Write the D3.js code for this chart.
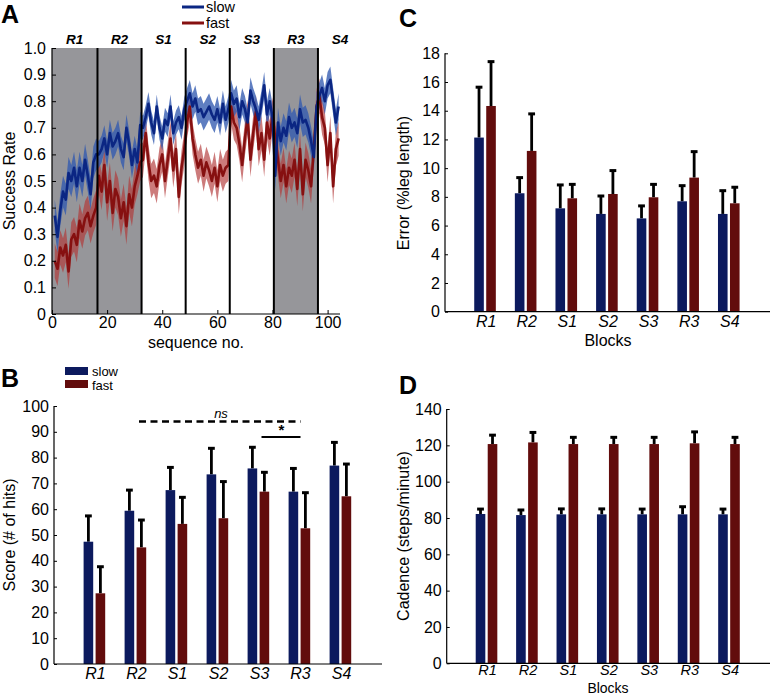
<!DOCTYPE html>
<html><head><meta charset="utf-8">
<script src="https://cdn.jsdelivr.net/npm/d3@7"></script>
<style>
body{margin:0;background:#fff;}
text{font-family:"Liberation Sans",Arial,Helvetica,sans-serif;}
</style></head>
<body><svg id="c" width="771" height="696"></svg>
<script>
// ---------- DATA ----------
const blocks = ["R1","R2","S1","S2","S3","R3","S4"];
const blockBounds = [0.5,16.5,32.5,48.5,64.5,80.5,96.5,104.5];
const shadedBlocks = ["R1","R2","R3"];
const seqTicks = [0,20,40,60,80,100];
const rateTicks = [0,0.1,0.2,0.3,0.4,0.5,0.6,0.7,0.8,0.9,1.0];

const slowRate = [
 0.37,0.29,0.39,0.46,0.43,0.53,0.50,0.55,0.48,0.55,0.50,0.58,0.52,0.45,0.57,0.60,
 0.60,0.62,0.66,0.60,0.68,0.63,0.65,0.68,0.62,0.59,0.70,0.64,0.56,0.62,0.57,0.71,
 0.70,0.74,0.79,0.72,0.68,0.78,0.70,0.66,0.73,0.71,0.78,0.68,0.72,0.74,0.70,0.77,
 0.80,0.83,0.78,0.81,0.76,0.77,0.74,0.76,0.78,0.75,0.73,0.77,0.72,0.79,0.73,0.77,
 0.83,0.79,0.81,0.74,0.80,0.77,0.72,0.84,0.80,0.77,0.73,0.79,0.86,0.75,0.80,0.74,
 0.52,0.72,0.65,0.70,0.67,0.74,0.70,0.72,0.68,0.77,0.72,0.73,0.70,0.65,0.59,0.78,
 0.82,0.85,0.80,0.86,0.88,0.80,0.72,0.78];
const fastRate = [
 0.20,0.17,0.25,0.22,0.26,0.16,0.28,0.30,0.26,0.35,0.31,0.36,0.38,0.33,0.37,0.40,
 0.52,0.46,0.56,0.42,0.50,0.38,0.47,0.44,0.36,0.42,0.33,0.45,0.40,0.48,0.52,0.57,
 0.58,0.68,0.57,0.50,0.52,0.48,0.56,0.60,0.50,0.58,0.66,0.54,0.62,0.44,0.55,0.62,
 0.72,0.78,0.66,0.60,0.55,0.58,0.52,0.57,0.54,0.50,0.55,0.48,0.56,0.52,0.55,0.56,
 0.78,0.72,0.70,0.64,0.56,0.66,0.74,0.58,0.68,0.76,0.62,0.68,0.58,0.72,0.66,0.75,
 0.66,0.58,0.50,0.56,0.48,0.55,0.52,0.58,0.47,0.62,0.45,0.58,0.54,0.48,0.62,0.78,
 0.82,0.74,0.70,0.56,0.68,0.48,0.62,0.66];
const slowSemByBlock = [0.06,0.05,0.045,0.05,0.05,0.055,0.05];
const fastSemByBlock = [0.065,0.07,0.065,0.06,0.065,0.065,0.065];

const scoreSlow = [47.4,59.4,67.4,73.5,75.8,66.8,76.9];
const scoreSlowErr = [57.4,67.4,76.2,83.6,84.0,75.8,85.9];
const scoreFast = [27.4,45.2,54.3,56.5,66.8,52.6,65.0];
const scoreFastErr = [37.7,55.8,64.6,70.7,74.3,66.4,77.5];
const scoreTicks = [0,10,20,30,40,50,60,70,80,90,100];

const errSlow = [12.13,8.25,7.2,6.81,6.5,7.69,6.81];
const errSlowErr = [15.64,9.34,8.83,8.06,7.37,8.78,8.43];
const errFast = [14.33,11.2,7.9,8.2,7.97,9.34,7.55];
const errFastErr = [17.42,13.78,8.87,9.83,8.87,11.15,8.67];
const errTicks = [0,2,4,6,8,10,12,14,16,18];

const cadSlow = [82.2,81.6,82.0,82.0,82.0,82.0,82.0];
const cadSlowErr = [84.9,84.4,85.0,85.0,84.9,86.2,84.9];
const cadFast = [120.7,121.6,120.7,120.7,120.7,121.1,120.7];
const cadFastErr = [125.6,127.1,124.4,124.4,124.4,127.4,124.4];
const cadTicks = [0,20,40,60,80,100,120,140];

// ---------- STYLE ----------
const BLUE_BAR = "#0c1a5e", RED_BAR = "#620c0c";
const BLUE_LINE = "#0b2683", RED_LINE = "#861010";
const BLUE_BAND = "rgba(50,90,175,0.78)", RED_BAND = "rgba(178,55,55,0.66)";
const GRAY = "#96969a";
const FONT = 16;

const svg = d3.select("#c");

function panelLetter(t,x,y){
  svg.append("text").attr("x",x).attr("y",y).text(t)
    .attr("font-size",25).attr("font-weight","bold").attr("fill","#000");
}

// ---------- PANEL A ----------
(function(){
  const L=52,R=340,T=48,B=314;
  const x=d3.scaleLinear().domain([0,104.5]).range([L,R]);
  const y=d3.scaleLinear().domain([0,1]).range([B,T]);
  const g=svg.append("g");
  blocks.forEach((b,i)=>{
    if(shadedBlocks.includes(b)){
      const lo = i===0?0:blockBounds[i];
      g.append("rect").attr("x",x(lo)).attr("y",T)
       .attr("width",x(blockBounds[i+1])-x(lo))
       .attr("height",B-T).attr("fill",GRAY);
    }
  });
  const blockOf = i=>{ for(let k=0;k<blocks.length;k++){ if(i<blockBounds[k+1]) return k;} return blocks.length-1; };
  function band(vals,sems,fill){
    const area=d3.area().x((d,i)=>x(i+1)).y0((d,i)=>y(d-sems[blockOf(i+1)])).y1((d,i)=>y(d+sems[blockOf(i+1)]));
    g.append("path").datum(vals).attr("d",area).attr("fill",fill);
  }
  function line(vals,stroke){
    const ln=d3.line().x((d,i)=>x(i+1)).y(d=>y(d));
    g.append("path").datum(vals).attr("d",ln).attr("fill","none").attr("stroke",stroke).attr("stroke-width",2.6).attr("stroke-linejoin","round");
  }
  band(fastRate,fastSemByBlock,RED_BAND);
  band(slowRate,slowSemByBlock,BLUE_BAND);
  line(fastRate,RED_LINE);
  line(slowRate,BLUE_LINE);
  blockBounds.slice(1,7).forEach(b=>{
    g.append("line").attr("x1",x(b)).attr("x2",x(b)).attr("y1",T).attr("y2",B).attr("stroke","#000").attr("stroke-width",2);
  });
  blocks.forEach((b,i)=>{
    const lo = i===0?0:blockBounds[i], hi = blockBounds[i+1];
    let cx=(x(lo)+x(hi))/2; if(i===6) cx = x(lo)+22;
    g.append("text").attr("x",cx).attr("y",T-4).attr("text-anchor","middle")
     .attr("font-size",13.5).attr("font-weight","bold").attr("font-style","italic").text(b);
  });
  const ya=d3.axisLeft(y).tickValues(rateTicks).tickSize(-4).tickPadding(6)
    .tickFormat(d=>d===0?"0":d.toFixed(1));
  const yg=g.append("g").attr("transform",`translate(${L},0)`).call(ya);
  const xa=d3.axisBottom(x).tickValues(seqTicks).tickSize(-4).tickPadding(3);
  const xg=g.append("g").attr("transform",`translate(0,${B})`).call(xa);
  [yg,xg].forEach(a=>{a.select(".domain").attr("stroke","#000").attr("stroke-width",1.2);
    a.selectAll("text").attr("font-size",FONT).attr("fill","#000").attr("font-family","Liberation Sans, Arial");
    a.selectAll(".tick line").attr("stroke","#000");});
  yg.select(".domain").attr("d",`M0,${B}V${T}`);
  xg.select(".domain").attr("d",`M${L},0H${R}`);
  g.append("text").attr("transform",`translate(15,${(T+B)/2}) rotate(-90)`).attr("text-anchor","middle")
   .attr("font-size",FONT).text("Success Rate");
  g.append("text").attr("x",196).attr("y",348).attr("text-anchor","middle").attr("font-size",FONT).text("sequence no.");
  const lg=[["slow",BLUE_LINE,7],["fast",RED_LINE,23]];
  lg.forEach(([t,c,yy])=>{
    g.append("line").attr("x1",182).attr("x2",204).attr("y1",yy).attr("y2",yy).attr("stroke",c).attr("stroke-width",3);
    g.append("text").attr("x",206).attr("y",yy+5).attr("font-size",14.5).text(t);
  });
  panelLetter("A",1,23);
})();

// ---------- BAR PANELS ----------
function barPanel(o){
  const x=d3.scaleLinear().domain([0,8]).range([o.L,o.R]);
  const y=d3.scaleLinear().domain([0,o.max]).range([o.B,o.T]);
  const g=svg.append("g");
  const bw=9.6, gap=2.4;
  const series=[[o.slow,o.slowErr,BLUE_BAR,-1],[o.fast,o.fastErr,RED_BAR,1]];
  series.forEach(([vals,errs,col,side])=>{
    vals.forEach((v,i)=>{
      const cx=x(i+1)+side*(bw/2+gap/2) - 0.6;
      g.append("line").attr("x1",cx).attr("x2",cx).attr("y1",y(v)).attr("y2",y(errs[i])).attr("stroke","#000").attr("stroke-width",2.8);
      g.append("line").attr("x1",cx-3.4).attr("x2",cx+3.4).attr("y1",y(errs[i])).attr("y2",y(errs[i])).attr("stroke","#000").attr("stroke-width",3);
      g.append("rect").attr("x",cx-bw/2).attr("y",y(v)).attr("width",bw).attr("height",o.B-y(v)).attr("fill",col);
    });
  });
  const ya=d3.axisLeft(y).tickValues(o.ticks).tickSize(-3).tickPadding(5);
  const yg=g.append("g").attr("transform",`translate(${o.L},0)`).call(ya);
  yg.select(".domain").attr("d",`M0,${o.B}V${o.T}`).attr("stroke","#000").attr("stroke-width",1.2);
  yg.selectAll("text").attr("font-size",FONT).attr("fill","#000");
  yg.selectAll(".tick line").attr("stroke","#000");
  const xa=d3.axisBottom(x).tickValues(blocks.map((b,i)=>i+1)).tickFormat((d,i)=>blocks[i]).tickSize(0).tickPadding(o.xpad||4);
  const xg=g.append("g").attr("transform",`translate(0,${o.B})`).call(xa);
  xg.select(".domain").attr("d",`M${o.L},0H${o.R}`).attr("stroke","#000").attr("stroke-width",1.2);
  xg.selectAll("text").attr("font-size",o.cfs||FONT).attr("font-style","italic").attr("fill","#000");
  g.append("text").attr("transform",`translate(${o.ylx},${o.yly}) rotate(-90)`).attr("text-anchor","middle")
   .attr("font-size",FONT).text(o.ylabel);
  if(o.xlabel) g.append("text").attr("x",o.xlx).attr("y",o.xly).attr("text-anchor","middle").attr("font-size",o.xfs||FONT).text(o.xlabel);
  return {g,x,y};
}

// Panel B
(function(){
  const p=barPanel({L:54,R:382,T:406,B:664,max:100,ticks:scoreTicks,slow:scoreSlow,slowErr:scoreSlowErr,
    fast:scoreFast,fastErr:scoreFastErr,ylabel:"Score (# of hits)",ylx:15,yly:535});
  const {g,x,y}=p;
  g.append("line").attr("x1",x(2)+3).attr("x2",x(6)+0.5).attr("y1",y(94)).attr("y2",y(94))
   .attr("stroke","#000").attr("stroke-width",2.4).attr("stroke-dasharray","7,4.5");
  g.append("text").attr("x",(x(2)+x(6))/2+3).attr("y",y(94)-3).attr("text-anchor","middle")
   .attr("font-size",13).attr("font-style","italic").text("ns");
  g.append("line").attr("x1",x(5)+2.5).attr("x2",x(6)+0.5).attr("y1",y(88)).attr("y2",y(88))
   .attr("stroke","#000").attr("stroke-width",2);
  g.append("text").attr("x",(x(5)+x(6))/2+2).attr("y",y(88)-2).attr("text-anchor","middle")
   .attr("font-size",15).attr("font-weight","bold").text("*");
  [["slow",BLUE_BAR,367,376],["fast",RED_BAR,380,390]].forEach(([t,c,yy,by])=>{
    g.append("rect").attr("x",65).attr("y",yy).attr("width",23).attr("height",8).attr("fill",c);
    g.append("text").attr("x",92).attr("y",by).attr("font-size",13).text(t);
  });
  panelLetter("B",1,387);
})();

// Panel C
(function(){
  barPanel({L:445,R:770,T:53.3,B:311.7,max:18,ticks:errTicks,slow:errSlow,slowErr:errSlowErr,
    fast:errFast,fastErr:errFastErr,ylabel:"Error (%leg length)",ylx:409,yly:183,xlabel:"Blocks",xlx:608,xly:346});
  panelLetter("C",399,27);
})();

// Panel D
(function(){
  barPanel({L:446.7,R:770,T:409,B:663.3,max:140,ticks:cadTicks,slow:cadSlow,slowErr:cadSlowErr,
    fast:cadFast,fastErr:cadFastErr,ylabel:"Cadence (steps/minute)",ylx:409,yly:536,xlabel:"Blocks",xlx:608,xly:693,xfs:14,cfs:14.5,xpad:1});
  panelLetter("D",399,394);
})();
</script></body></html>
